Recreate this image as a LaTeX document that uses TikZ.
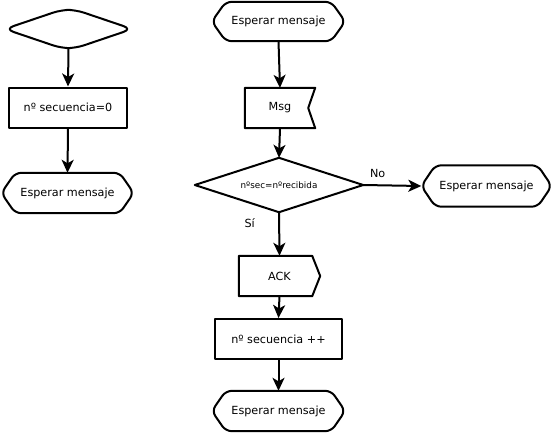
\documentclass[tikz,border=0pt]{standalone}
\usepackage{fontspec}
\setmainfont{DejaVu Sans}
\usetikzlibrary{calc,arrows.meta}
\tikzset{
  base/.style={inner sep=0pt, font=\fontsize{11.2}{13}\selectfont},
  lw/.style={line width=2pt, line join=round},
  arr/.style={lw, -{Stealth[length=13pt,width=12pt,inset=3.5pt]}},
  lbl/.style={font=\fontsize{11.2}{13}\selectfont},
}
\newcommand\waitshape[1]{\draw[lw, rounded corners=6pt] ($(#1.north west)+(14,0)$) -- ($(#1.north east)+(-14,0)$) -- (#1.east) -- ($(#1.south east)+(-14,0)$) -- ($(#1.south west)+(14,0)$) -- (#1.west) -- cycle;}
\begin{document}
\begin{tikzpicture}[x=1pt,y=-1pt]
\useasboundingbox (0,0) rectangle (553,432);
% nodes
\node[base, minimum width=127pt, minimum height=38pt] (start) at (68.5,29) {};
\node[base, minimum width=118pt, minimum height=40pt, draw, lw] (init) at (68,107.5) {nº secuencia=0};
\node[base, minimum width=132pt, minimum height=40pt] (waitL) at (67.5,193) {Esperar mensaje};
\node[base, minimum width=133pt, minimum height=39pt] (waitT) at (278.5,21.5) {Esperar mensaje};
\node[base, minimum width=70pt, minimum height=40pt] (msg) at (280,108) {Msg};
\node[base, minimum width=168pt, minimum height=54pt, font=\fontsize{8.8}{10}\selectfont] (dec) at (279,185) {nºsec=nºrecibida};
\node[base, minimum width=130pt, minimum height=41pt] (waitR) at (486.5,186) {Esperar mensaje};
\node[base, minimum width=81pt, minimum height=40pt] (ack) at (279.5,276) {ACK};
\node[base, minimum width=127pt, minimum height=40pt, draw, lw] (inc) at (278.5,339) {nº secuencia ++};
\node[base, minimum width=133pt, minimum height=40pt] (waitB) at (278.5,411) {Esperar mensaje};
% shapes
\draw[lw, rounded corners=9pt] (start.west) -- ($(start.north)+(-7,0)$) -- ($(start.north)+(7,0)$) -- (start.east) -- ($(start.south)+(7,0)$) -- ($(start.south)+(-7,0)$) -- cycle;
\waitshape{waitL}
\waitshape{waitT}
\waitshape{waitR}
\waitshape{waitB}
\draw[lw] (msg.north west) -- (msg.north east) -- ($(msg.east)+(-7,0)$) -- (msg.south east) -- (msg.south west) -- cycle;
\draw[lw] (dec.west) -- (dec.north) -- (dec.east) -- (dec.south) -- cycle;
\draw[lw] (ack.north west) -- ($(ack.north east)+(-8,0)$) -- (ack.east) -- ($(ack.south east)+(-8,0)$) -- (ack.south west) -- cycle;
% connectors
\draw[arr] (start.south) -- (init.north);
\draw[arr] (init.south) -- (waitL.north);
\draw[arr] (waitT.south) -- (msg.north);
\draw[arr] (msg.south) -- (dec.north);
\draw[arr] (dec.east) -- node[lbl, pos=0.25, above=3pt] {No} (waitR.west);
\draw[arr] (dec.south) -- node[lbl, pos=0.25, left=20pt] {Sí} (ack.north);
\draw[arr] (ack.south) -- (inc.north);
\draw[arr] (inc.south) -- (waitB.north);
\end{tikzpicture}
\end{document}
